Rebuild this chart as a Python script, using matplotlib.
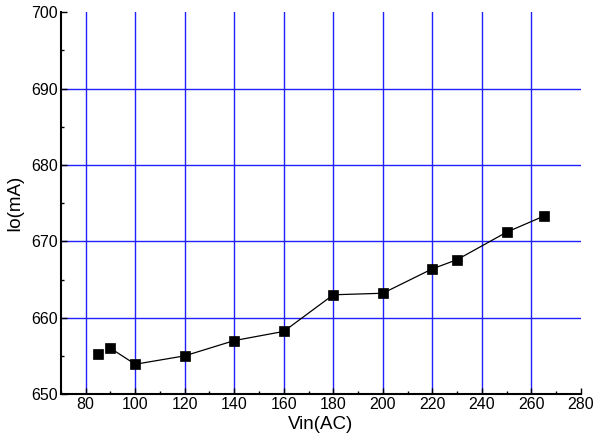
import matplotlib
matplotlib.use("Agg")
import matplotlib.pyplot as plt
from matplotlib.ticker import MultipleLocator

plt.rcParams['font.family'] = ['Liberation Sans', 'DejaVu Sans']

vin = [85, 90, 100, 120, 140, 160, 180, 200, 220, 230, 250, 265]
io = [655.3, 656.0, 653.9, 655.0, 657.0, 658.2, 663.0, 663.2, 666.4, 667.6, 671.2, 673.3]

fig = plt.figure(figsize=(6.03, 4.40), dpi=100)
ax = fig.add_axes([0.101, 0.1045, 0.8624, 0.8675])

# grid lines (vertical 80..260, horizontal 660..690)
for gx in range(80, 280, 20):
    ax.axvline(gx, color='#2020ff', lw=1.0, zorder=1)
for gy in range(660, 700, 10):
    ax.axhline(gy, color='#2020ff', lw=1.0, zorder=1)

# connecting line starts at the second point
ax.plot(vin[1:], io[1:], color='black', lw=0.9, zorder=2)
ax.plot(vin, io, 's', color='black', ms=7.8, mew=0.5, zorder=3)

ax.set_xlim(70, 280)
ax.set_ylim(650, 700)
ax.xaxis.set_major_locator(MultipleLocator(20))
ax.xaxis.set_minor_locator(MultipleLocator(10))
ax.yaxis.set_major_locator(MultipleLocator(10))
ax.yaxis.set_minor_locator(MultipleLocator(5))
ax.set_xticks(range(80, 281, 20))

for s in ['top', 'right']:
    ax.spines[s].set_visible(False)
for s in ['left', 'bottom']:
    ax.spines[s].set_linewidth(1.5)

ax.tick_params(which='both', direction='in', labelsize=11.5, pad=2)
ax.tick_params(which='major', length=4, width=1)
ax.tick_params(which='minor', length=2.5, width=1)

ax.set_xlabel('Vin(AC)', fontsize=13.5, labelpad=3)
ax.set_ylabel('Io(mA)', fontsize=13.5, labelpad=6)

fig.savefig('out.png', dpi=100)
